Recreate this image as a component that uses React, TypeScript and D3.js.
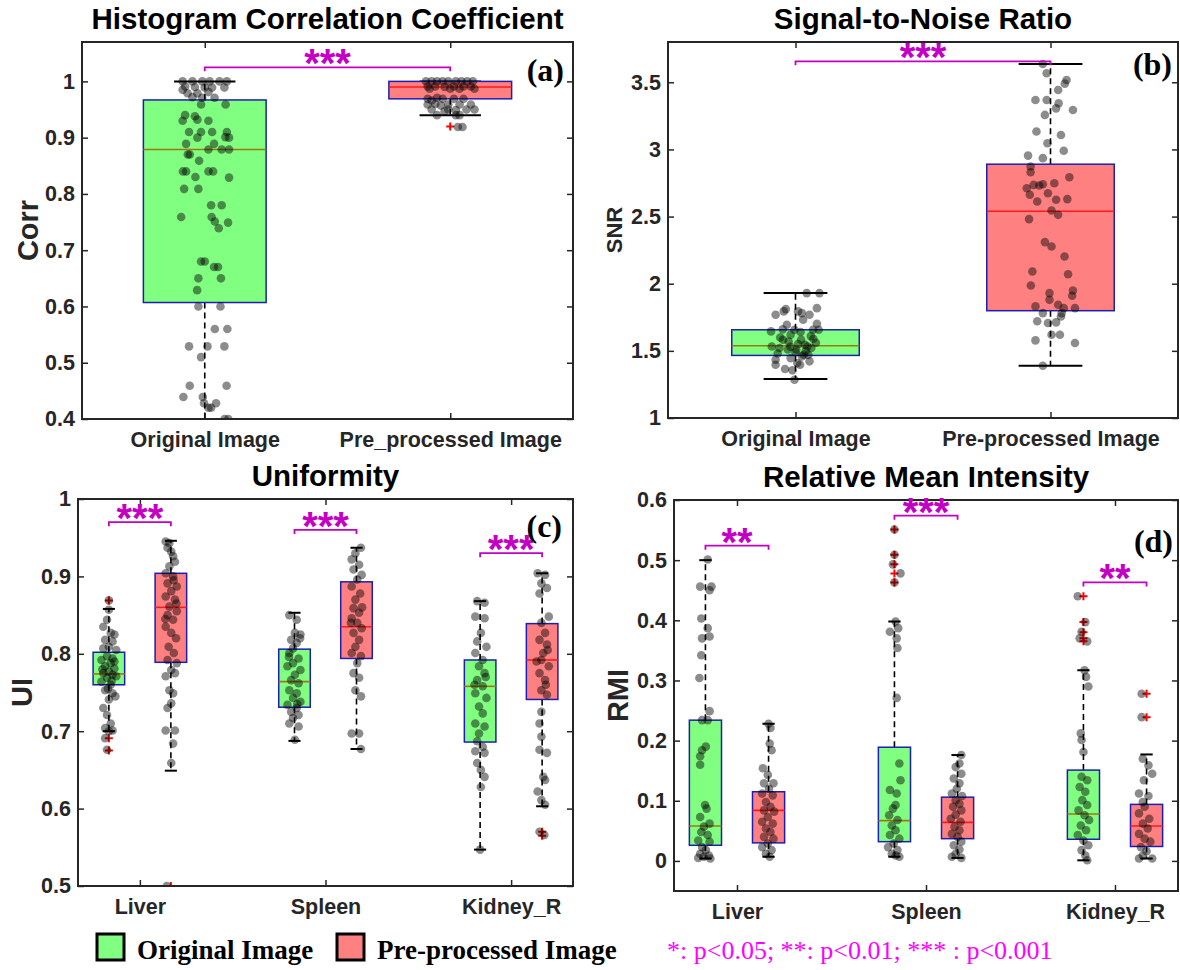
import React, { useEffect, useRef } from 'react';
import * as d3 from 'd3';

const SANS = '"Liberation Sans", Arial, Helvetica, sans-serif';
const SERIF = '"Liberation Serif", "Times New Roman", serif';

// ---------- shared ----------
const legendLabels = ['Original Image', 'Pre-processed Image'];
const pValueNote = '*: p<0.05; **: p<0.01; *** : p<0.001';
const organs = ['Liver', 'Spleen', 'Kidney_R'];

// every box: [lower whisker, q1, median, q3, upper whisker]
// every point: [jitter (category units), value]

// ---------- (a) histogram correlation coefficient ----------
const corrCategories = ['Original Image', 'Pre_processed Image'];
const corrTicks = [0.4, 0.5, 0.6, 0.7, 0.8, 0.9, 1];
const corrBoxes = [
    [0.4, 0.607, 0.879, 0.967, 1.0],
    [0.94, 0.969, 0.99, 1.0, 1.0],
];
const corrOutliers = [[], [0.92]];
const corrOrigPoints = [
    [-0.09, 1.0], [-0.05, 1.0], [-0.01, 1.0], [0.02, 1.0], [0.06, 1.0], [0.09, 1.0],
    [-0.08, 0.991], [-0.04, 0.99], [0.0, 0.989], [0.03, 0.989], [0.08, 0.989],
    [-0.09, 0.985], [-0.07, 0.979], [-0.03, 0.979], [0.015, 0.981],
    [-0.05, 0.972], [-0.01, 0.971], [0.04, 0.971], [-0.015, 0.959], [0.085, 0.959],
    [-0.08, 0.94], [-0.04, 0.938], [-0.03, 0.932], [0.015, 0.93], [-0.09, 0.93],
    [-0.064, 0.91], [-0.015, 0.91], [0.03, 0.91], [0.09, 0.91], [-0.03, 0.9], [0.084, 0.901], [0.099, 0.9],
    [-0.076, 0.889], [0.038, 0.889], [0.015, 0.879], [0.099, 0.879], [0.069, 0.879],
    [-0.061, 0.87], [-0.069, 0.87], [-0.023, 0.859],
    [-0.089, 0.84], [-0.076, 0.84], [0.015, 0.84], [0.034, 0.84], [0.099, 0.829], [-0.038, 0.83],
    [-0.084, 0.809], [-0.026, 0.809], [0.026, 0.78], [0.069, 0.78],
    [-0.096, 0.759], [0.028, 0.759], [0.041, 0.751], [0.095, 0.749], [0.057, 0.739],
    [-0.015, 0.68], [0.0, 0.68], [0.038, 0.67], [0.054, 0.67],
    [-0.026, 0.65], [0.066, 0.65], [-0.031, 0.629],
    [-0.026, 0.6], [0.064, 0.6], [0.041, 0.56], [0.092, 0.56],
    [-0.064, 0.529], [0.011, 0.529], [0.08, 0.529], [-0.015, 0.51],
    [-0.061, 0.459], [0.089, 0.459], [-0.087, 0.439], [-0.008, 0.439], [-0.003, 0.428], [0.046, 0.428],
    [0.015, 0.42], [0.026, 0.42], [0.081, 0.4], [0.096, 0.4],
];
const corrPrePoints = [
    [-0.099, 1.0], [-0.076, 1.0], [-0.054, 1.0], [-0.031, 1.0], [-0.008, 1.0], [0.023, 1.0], [0.046, 1.0], [0.069, 1.0], [0.092, 1.0],
    [-0.092, 0.991], [-0.061, 0.991], [-0.023, 0.99], [0.015, 0.991], [0.054, 0.991], [0.084, 0.991],
    [-0.084, 0.987], [0.0, 0.987], [0.038, 0.987], [0.099, 0.987],
    [-0.092, 0.969], [-0.054, 0.971], [-0.031, 0.969], [0.015, 0.969], [0.054, 0.969], [-0.076, 0.966],
    [-0.092, 0.959], [-0.061, 0.96], [-0.008, 0.959], [0.038, 0.959], [0.084, 0.959], [-0.038, 0.957],
    [-0.076, 0.95], [-0.008, 0.95], [0.023, 0.949], [0.066, 0.95], [0.099, 0.95], [-0.023, 0.947],
    [-0.054, 0.94], [0.023, 0.94], [0.038, 0.94],
    [0.031, 0.919], [0.05, 0.919],
];
const corrSigStars = ['***'];
const corrSigLevel = [1.025];

// ---------- (b) signal-to-noise ratio ----------
const snrCategories = ['Original Image', 'Pre-processed Image'];
const snrTicks = [1, 1.5, 2, 2.5, 3, 3.5];
const snrBoxes = [
    [1.29, 1.466, 1.538, 1.657, 1.93],
    [1.389, 1.799, 2.54, 2.89, 3.636],
];
const snrOutliers = [[], []];
const snrOrigPoints = [
    [0.044, 1.93], [0.094, 1.93], [0.084, 1.818], [-0.038, 1.811], [-0.078, 1.769], [-0.046, 1.794],
    [0.01, 1.794], [0.025, 1.781], [0.055, 1.769], [-0.034, 1.694], [0.03, 1.732], [0.084, 1.702],
    [0.091, 1.657], [0.069, 1.657], [-0.096, 1.645], [-0.004, 1.657], [-0.019, 1.62], [-0.049, 1.583],
    [-0.027, 1.57], [0.022, 1.583], [0.037, 1.546], [-0.093, 1.533], [-0.063, 1.521], [0.003, 1.508],
    [0.062, 1.521], [0.04, 1.496], [0.047, 1.533], [-0.078, 1.434], [-0.019, 1.446], [0.032, 1.471],
    [0.025, 1.459], [0.018, 1.397], [0.055, 1.422], [-0.078, 1.397], [-0.041, 1.365], [-0.012, 1.355],
    [0.007, 1.409], [-0.004, 1.285], [-0.06, 1.6], [0.07, 1.59], [-0.02, 1.53], [0.01, 1.55],
    [-0.07, 1.48], [0.05, 1.47], [0.0, 1.49], [-0.03, 1.51], [0.08, 1.56], [-0.05, 1.66],
    [0.02, 1.64], [0.06, 1.61],
];
const snrPrePoints = [
    [-0.03, 3.636], [-0.059, 3.368], [-0.015, 3.368], [-0.015, 3.567], [0.03, 3.443], [0.063, 3.517],
    [0.056, 3.49], [0.022, 3.306], [0.032, 3.344], [0.088, 3.294], [-0.022, 3.257], [-0.055, 3.133],
    [0.041, 3.108], [-0.012, 3.046], [-0.088, 2.954], [-0.03, 2.935], [0.052, 2.99], [-0.078, 2.873],
    [-0.078, 2.83], [-0.093, 2.711], [-0.066, 2.736], [-0.044, 2.731], [-0.03, 2.741], [0.015, 2.748],
    [0.074, 2.793], [-0.081, 2.662], [-0.01, 2.674], [-0.052, 2.612], [0.022, 2.625], [0.066, 2.63],
    [0.004, 2.545], [0.03, 2.513], [-0.084, 2.481], [-0.022, 2.31], [0.004, 2.277], [0.055, 2.203],
    [-0.071, 2.091], [0.069, 2.071], [-0.077, 1.987], [0.088, 1.95], [0.085, 1.91], [-0.004, 1.93],
    [-0.004, 1.88], [-0.059, 1.831], [0.03, 1.843], [0.052, 1.818], [0.096, 1.818], [-0.03, 1.781],
    [0.044, 1.781], [0.041, 1.756], [-0.052, 1.72], [0.022, 1.712], [-0.01, 1.707], [0.004, 1.62],
    [0.037, 1.62], [-0.059, 1.578], [0.096, 1.558], [-0.03, 1.389],
];
const snrSigStars = ['***'];
const snrSigLevel = [3.656];

// ---------- (c) uniformity ----------
const uiTicks = [0.5, 0.6, 0.7, 0.8, 0.9, 1];
const uiOrigBoxes = [
    [0.7, 0.76, 0.774, 0.802, 0.858],
    [0.6875, 0.731, 0.764, 0.806, 0.853],
    [0.547, 0.686, 0.758, 0.792, 0.868],
];
const uiPreBoxes = [
    [0.649, 0.789, 0.86, 0.904, 0.946],
    [0.677, 0.794, 0.835, 0.893, 0.937],
    [0.603, 0.741, 0.792, 0.839, 0.904],
];
const uiOrigOutliers = [[0.869, 0.691, 0.675], [], []];
const uiPreOutliers = [[0.5], [], [0.57, 0.565]];
const uiOrigPoints = [
    [
        [0, 0.857], [-0.01, 0.844], [-0.03, 0.835], [0.01, 0.827], [0.03, 0.825], [-0.02, 0.818], [0.02, 0.816],
        [0, 0.809], [-0.03, 0.807], [0.04, 0.805], [-0.01, 0.797], [0.02, 0.794], [-0.04, 0.792], [0.01, 0.788],
        [-0.02, 0.784], [0.03, 0.781], [0, 0.777], [-0.03, 0.775], [0.02, 0.773], [-0.01, 0.769], [0.04, 0.771],
        [-0.04, 0.764], [0.01, 0.76], [-0.02, 0.753], [0.02, 0.749], [0, 0.741], [-0.03, 0.73], [-0.01, 0.721],
        [0.01, 0.71], [-0.02, 0.704], [0.02, 0.701], [0, 0.7], [-0.02, 0.691], [-0.01, 0.676], [0, 0.869],
        [0.03, 0.79], [-0.035, 0.78], [0.015, 0.765], [-0.005, 0.755], [0.035, 0.745],
    ],
    [
        [-0.028, 0.85], [0.012, 0.844], [0.002, 0.827], [0.032, 0.825], [-0.018, 0.818], [0.012, 0.814],
        [-0.008, 0.807], [-0.028, 0.801], [0.022, 0.794], [-0.008, 0.788], [-0.038, 0.784], [0.032, 0.779],
        [0.002, 0.773], [-0.018, 0.766], [0.022, 0.762], [-0.028, 0.753], [0.012, 0.749], [-0.008, 0.743],
        [0.032, 0.738], [-0.038, 0.734], [0.012, 0.73], [-0.018, 0.725], [0.022, 0.721], [-0.008, 0.717],
        [-0.028, 0.71], [0.022, 0.706], [0.002, 0.689], [0.03, 0.82], [-0.03, 0.796], [0.015, 0.735],
    ],
    [
        [-0.016, 0.868], [0.024, 0.866], [-0.026, 0.848], [0.024, 0.846], [0.004, 0.827], [-0.016, 0.816],
        [0.034, 0.809], [-0.026, 0.801], [0.014, 0.792], [-0.006, 0.784], [0.024, 0.775], [-0.016, 0.766],
        [0.014, 0.758], [-0.026, 0.749], [0.034, 0.743], [-0.006, 0.732], [0.014, 0.723], [-0.026, 0.71],
        [0.024, 0.706], [-0.006, 0.697], [-0.016, 0.687], [0.014, 0.68], [-0.026, 0.674], [0.024, 0.672],
        [-0.016, 0.659], [0.004, 0.65], [0.024, 0.641], [0.004, 0.628], [0, 0.547], [0.03, 0.77], [-0.03, 0.76],
    ],
];
const uiPrePoints = [
    [
        [-0.028, 0.945], [-0.008, 0.943], [-0.018, 0.937], [0.002, 0.932], [0.012, 0.926], [0.022, 0.919],
        [-0.008, 0.913], [-0.028, 0.904], [0.012, 0.9], [-0.018, 0.891], [0.032, 0.887], [0.002, 0.881],
        [-0.028, 0.874], [0.022, 0.87], [-0.008, 0.861], [0.032, 0.855], [-0.018, 0.85], [0.012, 0.844],
        [-0.028, 0.835], [0.002, 0.827], [0.028, 0.82], [-0.012, 0.809], [0.016, 0.801], [-0.018, 0.792],
        [0.032, 0.788], [0.002, 0.779], [-0.028, 0.771], [0.022, 0.775], [-0.008, 0.753], [0.012, 0.749],
        [-0.018, 0.73], [0.002, 0.736], [0.022, 0.701], [-0.028, 0.701], [0.012, 0.684], [0.002, 0.659],
        [-0.022, 0.5], [0.03, 0.865], [-0.03, 0.845], [0.015, 0.895],
    ],
    [
        [0.024, 0.937], [-0.006, 0.93], [-0.026, 0.922], [0.014, 0.915], [-0.016, 0.909], [0.028, 0.902],
        [0.004, 0.896], [-0.026, 0.887], [0.02, 0.878], [-0.006, 0.87], [-0.016, 0.859], [0.014, 0.853],
        [-0.026, 0.846], [0.004, 0.84], [0.028, 0.833], [-0.016, 0.827], [0.014, 0.818], [-0.006, 0.809],
        [-0.026, 0.801], [0.024, 0.797], [0.004, 0.788], [-0.016, 0.775], [0.014, 0.769], [-0.006, 0.753],
        [0.024, 0.745], [-0.026, 0.697], [0.014, 0.697], [0.024, 0.677], [0.03, 0.86], [-0.03, 0.84],
    ],
    [
        [-0.024, 0.904], [0.016, 0.902], [-0.004, 0.891], [0.026, 0.885], [-0.014, 0.878], [0.036, 0.848],
        [-0.004, 0.84], [0.016, 0.827], [-0.014, 0.818], [0.026, 0.812], [0.006, 0.801], [-0.004, 0.792],
        [0.036, 0.784], [-0.014, 0.775], [0.016, 0.766], [-0.004, 0.753], [0.026, 0.747], [-0.004, 0.725],
        [-0.014, 0.71], [-0.004, 0.693], [0.026, 0.672], [-0.014, 0.676], [0.006, 0.641], [0.016, 0.637],
        [-0.024, 0.622], [-0.004, 0.611], [0.016, 0.605], [-0.014, 0.57], [0.012, 0.566], [0.03, 0.805],
        [-0.03, 0.79], [0.02, 0.76],
    ],
];
const uiSigStars = ['***', '***', '***'];
const uiSigLevel = [0.97, 0.96, 0.93];

// ---------- (d) relative mean intensity ----------
const rmiTicks = [0, 0.1, 0.2, 0.3, 0.4, 0.5, 0.6];
const rmiOrigBoxes = [
    [0.004, 0.026, 0.058, 0.234, 0.5],
    [0.007, 0.032, 0.067, 0.189, 0.398],
    [0.001, 0.036, 0.078, 0.151, 0.317],
];
const rmiPreBoxes = [
    [0.007, 0.03, 0.084, 0.115, 0.228],
    [0.005, 0.037, 0.064, 0.106, 0.176],
    [0.004, 0.024, 0.058, 0.094, 0.177],
];
const rmiOrigOutliers = [[], [0.551, 0.509, 0.493, 0.478, 0.463], [0.44, 0.397, 0.38, 0.37, 0.365]];
const rmiPreOutliers = [[], [], [0.278, 0.239]];
const rmiOrigPoints = [
    [
        [0.012, 0.501], [-0.028, 0.456], [0.032, 0.456], [0.022, 0.45], [-0.022, 0.403], [0.012, 0.387],
        [0.022, 0.373], [-0.018, 0.37], [-0.022, 0.342], [-0.032, 0.304], [0.022, 0.249], [0.012, 0.234],
        [-0.018, 0.234], [0.002, 0.19], [-0.018, 0.184], [-0.028, 0.174], [-0.028, 0.16], [-0.002, 0.093],
        [0.006, 0.087], [-0.028, 0.073], [0.022, 0.062], [-0.008, 0.057], [-0.022, 0.048], [0.012, 0.043],
        [-0.038, 0.034], [0.022, 0.032], [-0.018, 0.023], [0.002, 0.018], [-0.028, 0.012], [0.018, 0.009],
        [-0.008, 0.007], [-0.038, 0.005], [0.026, 0.004],
    ],
    [
        [0, 0.551], [0, 0.509], [-0.008, 0.493], [0.032, 0.478], [0, 0.463], [0.006, 0.398], [0.02, 0.387],
        [-0.024, 0.381], [0.012, 0.37], [0.016, 0.354], [0.012, 0.271], [0.026, 0.162], [0.032, 0.134],
        [-0.024, 0.118], [0.012, 0.112], [0.006, 0.093], [-0.008, 0.087], [-0.028, 0.076], [0.016, 0.068],
        [-0.014, 0.059], [0.006, 0.051], [-0.024, 0.043], [0.026, 0.037], [-0.004, 0.029], [-0.034, 0.023],
        [0.016, 0.018], [-0.014, 0.012], [0.006, 0.009], [0.026, 0.007],
    ],
    [
        [-0.03, 0.44], [0.01, 0.397], [-0.01, 0.381], [0.02, 0.365], [-0.02, 0.37], [0.006, 0.317],
        [0.014, 0.306], [0.026, 0.29], [-0.014, 0.212], [-0.01, 0.201], [0, 0.181], [-0.01, 0.14],
        [0.02, 0.134], [-0.02, 0.123], [0.01, 0.115], [-0.006, 0.101], [0.02, 0.093], [-0.026, 0.084],
        [0.006, 0.076], [0.03, 0.068], [-0.014, 0.059], [0.014, 0.051], [-0.03, 0.043], [0, 0.034],
        [0.026, 0.026], [-0.01, 0.018], [0.01, 0.009], [0.02, 0.001],
    ],
];
const rmiPrePoints = [
    [
        [0, 0.228], [0.01, 0.221], [0.006, 0.195], [0.016, 0.184], [-0.03, 0.154], [-0.004, 0.143],
        [-0.024, 0.129], [0.026, 0.129], [0.002, 0.12], [-0.034, 0.112], [0.022, 0.109], [-0.014, 0.098],
        [0.01, 0.09], [-0.024, 0.084], [0.03, 0.082], [-0.004, 0.073], [-0.034, 0.065], [0.022, 0.062],
        [-0.014, 0.054], [0.01, 0.048], [-0.024, 0.04], [0.026, 0.037], [-0.004, 0.029], [-0.034, 0.023],
        [0.016, 0.018], [-0.014, 0.012], [0.006, 0.007],
    ],
    [
        [0.02, 0.176], [0.01, 0.162], [-0.01, 0.156], [0.02, 0.145], [-0.02, 0.137], [0.01, 0.129],
        [-0.004, 0.12], [-0.03, 0.112], [0.024, 0.108], [-0.01, 0.101], [0.01, 0.095], [-0.024, 0.09],
        [0.02, 0.084], [-0.01, 0.077], [-0.036, 0.07], [0.016, 0.065], [-0.016, 0.057], [0.01, 0.051],
        [-0.03, 0.045], [0, 0.04], [0.02, 0.032], [-0.02, 0.026], [0.01, 0.019], [-0.01, 0.012],
        [-0.03, 0.007], [0.02, 0.005],
    ],
    [
        [-0.026, 0.278], [-0.026, 0.239], [-0.02, 0.17], [0.01, 0.159], [0.03, 0.145], [-0.014, 0.134],
        [-0.04, 0.112], [0.01, 0.108], [-0.02, 0.098], [-0.01, 0.09], [-0.04, 0.079], [0.014, 0.07],
        [-0.02, 0.062], [0.006, 0.054], [-0.04, 0.045], [-0.01, 0.037], [0.02, 0.032], [-0.03, 0.023],
        [0, 0.016], [-0.02, 0.009], [0.03, 0.004], [-0.04, 0.004],
    ],
];
const rmiSigStars = ['**', '***', '**'];
const rmiSigLevel = [0.524, 0.574, 0.463];

// ---------- drawing ----------
const FILLS = ['#80ff80', '#ff8080'];
const MEDIANS = ['#9a7a10', '#ff1a1a'];
const AXIS = '#262626';
const SIG = '#c400c4';

let clipId = 0;

function drawPanel(svg, p) {
    const x = d3.scaleLinear().domain(p.xDomain).range([p.left, p.right]);
    const y = d3.scaleLinear().domain(p.yDomain).range([p.bottom, p.top]);
    const g = svg.append('g');

    const id = `clip${clipId++}`;
    g.append('clipPath').attr('id', id)
        .append('rect')
        .attr('x', p.left).attr('y', p.top)
        .attr('width', p.right - p.left).attr('height', p.bottom - p.top);
    const data = g.append('g').attr('clip-path', `url(#${id})`);

    p.groups.forEach(gr => {
        const [lo, q1, med, q3, hi] = gr.box;
        const cx = x(gr.pos);
        const bw = x(gr.pos + p.boxW / 2) - cx;
        const cw = x(gr.pos + p.capW / 2) - cx;
        [[q3, hi], [q1, lo]].forEach(([a, b]) => {
            data.append('line')
                .attr('x1', cx).attr('x2', cx).attr('y1', y(a)).attr('y2', y(b))
                .attr('stroke', '#000').attr('stroke-width', 1.6).attr('stroke-dasharray', '6,4');
        });
        [lo, hi].forEach(v => {
            data.append('line')
                .attr('x1', cx - cw).attr('x2', cx + cw).attr('y1', y(v)).attr('y2', y(v))
                .attr('stroke', '#000').attr('stroke-width', 2);
        });
        data.append('rect')
            .attr('x', cx - bw).attr('y', y(q3))
            .attr('width', 2 * bw).attr('height', y(q1) - y(q3))
            .attr('fill', FILLS[gr.kind]).attr('stroke', '#1e1eb4').attr('stroke-width', 1.5);
        data.append('line')
            .attr('x1', cx - bw).attr('x2', cx + bw).attr('y1', y(med)).attr('y2', y(med))
            .attr('stroke', MEDIANS[gr.kind]).attr('stroke-width', 1.6);

        gr.outliers.forEach(v => {
            const py = y(v);
            data.append('path')
                .attr('d', `M${cx - 4},${py}H${cx + 4}M${cx},${py - 4}V${py + 4}`)
                .attr('stroke', '#ff0000').attr('stroke-width', 2);
        });
    });

    p.groups.forEach(gr => {
        data.selectAll(null)
            .data(gr.points)
            .enter()
            .append('circle')
            .attr('cx', d => x(gr.pos + d[0]))
            .attr('cy', d => y(d[1]))
            .attr('r', 4.3)
            .attr('fill', '#000')
            .attr('fill-opacity', 0.45);
    });

    // frame and ticks
    g.append('rect')
        .attr('x', p.left).attr('y', p.top)
        .attr('width', p.right - p.left).attr('height', p.bottom - p.top)
        .attr('fill', 'none').attr('stroke', AXIS).attr('stroke-width', 2);

    const styleAxis = sel => {
        sel.select('.domain').remove();
        sel.selectAll('line').attr('stroke', AXIS).attr('stroke-width', 1.5);
        sel.selectAll('text')
            .attr('font-family', SANS).attr('font-weight', 'bold')
            .attr('font-size', 21.5).attr('fill', AXIS);
    };

    g.append('g').attr('transform', `translate(${p.left},0)`)
        .call(d3.axisLeft(y).tickValues(p.yTicks).tickSize(-6).tickPadding(7).tickFormat(d => String(d)))
        .call(styleAxis);
    g.append('g').attr('transform', `translate(${p.right},0)`)
        .call(d3.axisRight(y).tickValues(p.yTicks).tickSize(-6).tickFormat(() => ''))
        .call(styleAxis);
    g.append('g').attr('transform', `translate(0,${p.bottom})`)
        .call(d3.axisBottom(x).tickValues(p.xTicks).tickSize(-6).tickPadding(13)
            .tickFormat((d, i) => p.xLabels[i]))
        .call(styleAxis);
    g.append('g').attr('transform', `translate(0,${p.top})`)
        .call(d3.axisTop(x).tickValues(p.xTicks).tickSize(-6).tickFormat(() => ''))
        .call(styleAxis);

    // significance brackets
    p.brackets.forEach(b => {
        const x0 = x(b.x0), x1 = x(b.x1), by = y(b.level);
        g.append('path')
            .attr('d', `M${x0},${by + 4}V${by}H${x1}V${by + 4}`)
            .attr('fill', 'none').attr('stroke', SIG).attr('stroke-width', 1.8);
        g.append('text')
            .attr('x', (x0 + x1) / 2).attr('y', by + 10)
            .attr('text-anchor', 'middle')
            .attr('font-family', SANS).attr('font-weight', 'bold').attr('font-size', 40)
            .attr('fill', SIG)
            .text(b.stars);
    });

    // title, y label, tag
    g.append('text')
        .attr('x', (p.left + p.right) / 2).attr('y', p.top - 13)
        .attr('text-anchor', 'middle')
        .attr('font-family', SANS).attr('font-weight', 'bold').attr('font-size', 29.5)
        .attr('fill', '#000')
        .text(p.title);
    g.append('text')
        .attr('transform', `translate(${p.yLabelX},${(p.top + p.bottom) / 2}) rotate(-90)`)
        .attr('text-anchor', 'middle')
        .attr('font-family', SANS).attr('font-weight', 'bold').attr('font-size', p.yLabelSize)
        .attr('fill', AXIS)
        .text(p.yLabel);
    g.append('text')
        .attr('x', p.right - p.tagInset).attr('y', p.tagY)
        .attr('text-anchor', 'end')
        .attr('font-family', SERIF).attr('font-weight', 'bold').attr('font-size', 32)
        .attr('fill', '#000')
        .text(p.tag);
}

function twoGroupPanel(boxes, outliers, points) {
    return boxes.map((box, i) => ({ pos: i + 1, box, outliers: outliers[i], points: points[i], kind: i }));
}

function organPanel(origBoxes, preBoxes, origOut, preOut, origPts, prePts) {
    const out = [];
    organs.forEach((_, i) => {
        out.push({ pos: i + 1 - 0.167, box: origBoxes[i], outliers: origOut[i], points: origPts[i], kind: 0 });
        out.push({ pos: i + 1 + 0.167, box: preBoxes[i], outliers: preOut[i], points: prePts[i], kind: 1 });
    });
    return out;
}

const App = () => {
    const svgRef = useRef(null);

    useEffect(() => {
        const svg = d3.select(svgRef.current);
        svg.selectAll('*').remove();
        clipId = 0;

        drawPanel(svg, {
            left: 82, right: 573, top: 42, bottom: 419,
            xDomain: [0.5, 2.5], yDomain: [0.4, 1.07], yTicks: corrTicks,
            xTicks: [1, 2], xLabels: corrCategories,
            groups: twoGroupPanel(corrBoxes, corrOutliers, [corrOrigPoints, corrPrePoints]),
            boxW: 0.5, capW: 0.25,
            brackets: corrSigStars.map((s, i) => ({ x0: 1, x1: 2, level: corrSigLevel[i], stars: s })),
            title: 'Histogram Correlation Coefficient',
            yLabel: 'Corr', yLabelSize: 29, yLabelX: 38,
            tag: '(a)', tagInset: 9, tagY: 81,
        });

        drawPanel(svg, {
            left: 668, right: 1178, top: 42, bottom: 418,
            xDomain: [0.5, 2.5], yDomain: [1, 3.8], yTicks: snrTicks,
            xTicks: [1, 2], xLabels: snrCategories,
            groups: twoGroupPanel(snrBoxes, snrOutliers, [snrOrigPoints, snrPrePoints]),
            boxW: 0.5, capW: 0.25,
            brackets: snrSigStars.map((s, i) => ({ x0: 1, x1: 2, level: snrSigLevel[i], stars: s })),
            title: 'Signal-to-Noise Ratio',
            yLabel: 'SNR', yLabelSize: 22, yLabelX: 622,
            tag: '(b)', tagInset: 6, tagY: 75,
        });

        drawPanel(svg, {
            left: 78, right: 573, top: 499, bottom: 886,
            xDomain: [2 / 3, 10 / 3], yDomain: [0.5, 1], yTicks: uiTicks,
            xTicks: [1, 2, 3], xLabels: organs,
            groups: organPanel(uiOrigBoxes, uiPreBoxes, uiOrigOutliers, uiPreOutliers, uiOrigPoints, uiPrePoints),
            boxW: 0.17, capW: 0.065,
            brackets: uiSigStars.map((s, i) => ({ x0: i + 1 - 0.167, x1: i + 1 + 0.167, level: uiSigLevel[i], stars: s })),
            title: 'Uniformity',
            yLabel: 'UI', yLabelSize: 29, yLabelX: 32,
            tag: '(c)', tagInset: 11, tagY: 537,
        });

        drawPanel(svg, {
            left: 674, right: 1178, top: 500, bottom: 891,
            xDomain: [2 / 3, 10 / 3], yDomain: [-0.05, 0.6], yTicks: rmiTicks,
            xTicks: [1, 2, 3], xLabels: organs,
            groups: organPanel(rmiOrigBoxes, rmiPreBoxes, rmiOrigOutliers, rmiPreOutliers, rmiOrigPoints, rmiPrePoints),
            boxW: 0.17, capW: 0.065,
            brackets: rmiSigStars.map((s, i) => ({ x0: i + 1 - 0.167, x1: i + 1 + 0.167, level: rmiSigLevel[i], stars: s })),
            title: 'Relative Mean Intensity',
            yLabel: 'RMI', yLabelSize: 29, yLabelX: 628,
            tag: '(d)', tagInset: 5, tagY: 552,
        });

        // legend
        const leg = svg.append('g');
        const legX = [97, 337];
        legendLabels.forEach((label, i) => {
            leg.append('rect')
                .attr('x', legX[i]).attr('y', 934).attr('width', 27).attr('height', 26)
                .attr('fill', FILLS[i]).attr('stroke', '#000').attr('stroke-width', 3);
            leg.append('text')
                .attr('x', legX[i] + 40).attr('y', 959)
                .attr('font-family', SERIF).attr('font-weight', 'bold').attr('font-size', 27)
                .attr('fill', '#000')
                .text(label);
        });
        leg.append('text')
            .attr('x', 667).attr('y', 959)
            .attr('font-family', SERIF).attr('font-size', 26)
            .attr('fill', '#ff00ff')
            .text(pValueNote);
    }, []);

    return (
        <svg
            ref={svgRef}
            width={1180}
            height={970}
            style={{ position: 'absolute', left: 0, top: 0, background: '#fff' }}
        />
    );
};

export default App;
